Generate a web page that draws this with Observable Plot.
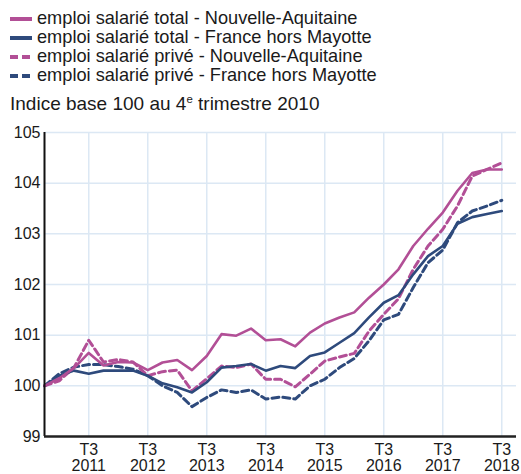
<!DOCTYPE html>
<html><head><meta charset="utf-8">
<script src="https://cdn.jsdelivr.net/npm/d3@7"></script>
<script src="https://cdn.jsdelivr.net/npm/@observablehq/plot@0.6"></script>
<style>
body{margin:0;background:#fff;font-family:"Liberation Sans",Arial,sans-serif;color:#1a1a1a}
#wrap{width:521px;height:474px;overflow:hidden;position:relative}
.legend{padding:9px 0 0 10px}
.row{height:19px;display:flex;align-items:center;font-size:18.2px;line-height:19px;white-space:nowrap}
.row svg{margin-right:5px;flex:none}
.sub{font-size:19px;height:21px;line-height:21px;margin:8px 0 0 10px;white-space:nowrap}
.sub .sup{font-size:0.6em;vertical-align:0.6em;line-height:0}
#chart svg{display:block}
</style></head><body>
<div id="wrap">
  <div class="legend" id="legend"></div>
  <div class="sub">Indice base 100 au 4<span class="sup">e</span> trimestre 2010</div>
  <div id="chart"></div>
</div>
<script>
const quarters = ["2010T4",
  "2011T1","2011T2","2011T3","2011T4",
  "2012T1","2012T2","2012T3","2012T4",
  "2013T1","2013T2","2013T3","2013T4",
  "2014T1","2014T2","2014T3","2014T4",
  "2015T1","2015T2","2015T3","2015T4",
  "2016T1","2016T2","2016T3","2016T4",
  "2017T1","2017T2","2017T3","2017T4",
  "2018T1","2018T2","2018T3"];
const tickQuarters = ["2011T3","2012T3","2013T3","2014T3","2015T3","2016T3","2017T3","2018T3"];
const yTicks = [99,100,101,102,103,104,105];

const totalNA = [100,100.15,100.35,100.65,100.4,100.47,100.46,100.31,100.46,100.51,100.31,100.59,101.02,100.99,101.13,100.9,100.92,100.78,101.05,101.23,101.35,101.45,101.74,102.0,102.3,102.76,103.1,103.42,103.85,104.2,104.27,104.27];
const totalFR = [100,100.2,100.3,100.24,100.3,100.3,100.3,100.2,100.05,99.97,99.87,100.07,100.36,100.39,100.43,100.3,100.39,100.35,100.59,100.66,100.85,101.04,101.35,101.64,101.79,102.2,102.56,102.76,103.2,103.33,103.39,103.45];
const priveNA = [100,100.1,100.36,100.9,100.47,100.52,100.47,100.2,100.28,100.31,99.9,100.14,100.39,100.36,100.43,100.13,100.13,99.98,100.23,100.49,100.57,100.64,101.08,101.41,101.72,102.3,102.76,103.09,103.55,104.14,104.27,104.4];
const priveFR = [100,100.24,100.37,100.42,100.42,100.38,100.33,100.2,100.0,99.87,99.59,99.77,99.92,99.87,99.92,99.74,99.78,99.74,100.0,100.13,100.36,100.54,100.89,101.3,101.41,101.94,102.43,102.68,103.22,103.45,103.55,103.66];

const PINK = "#b24f96", BLUE = "#2e4a7c";
const seriesNames = [
  "emploi salarié total - Nouvelle-Aquitaine",
  "emploi salarié total - France hors Mayotte",
  "emploi salarié privé - Nouvelle-Aquitaine",
  "emploi salarié privé - France hors Mayotte"
];
const seriesValues = [totalNA, totalFR, priveNA, priveFR];
const seriesColors = [PINK, BLUE, PINK, BLUE];
const seriesDashed = [false, false, true, true];

// legend
const leg = document.getElementById("legend");
seriesNames.forEach((name, k) => {
  const row = document.createElement("div");
  row.className = "row";
  const dash = seriesDashed[k] ? ' stroke-dasharray="8,4"' : '';
  row.innerHTML = `<svg width="22" height="8"><line x1="0" x2="22" y1="4" y2="4" stroke="${seriesColors[k]}" stroke-width="4"${dash}/></svg><span>${name}</span>`;
  leg.appendChild(row);
});

const idx = q => quarters.indexOf(q);
const tables = seriesValues.map(vals => vals.map((v, i) => ({i, v})));

const lineMark = k => Plot.line(tables[k], {
  x: "i", y: "v", stroke: seriesColors[k],
  strokeWidth: seriesDashed[k] ? 3 : 2.6,
  strokeDasharray: seriesDashed[k] ? "7,4" : null,
  strokeLinejoin: "round"
});

const chart = Plot.plot({
  width: 521, height: 360,
  marginTop: 18, marginBottom: 38, marginLeft: 44, marginRight: 5,
  style: {fontFamily: "Liberation Sans, Arial, sans-serif", color: "#1a1a1a", background: "#fff"},
  x: {domain: [0, quarters.length], axis: null},
  y: {domain: [99, 105], axis: null},
  marks: [
    Plot.gridY(yTicks.slice(1), {stroke: "#dce8f4", strokeOpacity: 1, strokeWidth: 1.5}),
    Plot.gridX(tickQuarters.map(idx), {stroke: "#dce8f4", strokeOpacity: 1, strokeWidth: 1.5}),
    lineMark(3), lineMark(2), lineMark(1), lineMark(0),
    Plot.ruleX([0], {stroke: "#111", strokeWidth: 2}),
    Plot.ruleY([99], {stroke: "#222", strokeWidth: 2.5}),
    Plot.axisY(yTicks, {tickSize: 0, tickPadding: 4, fontSize: 16, label: null, tickFormat: d => String(d)}),
    Plot.axisX(tickQuarters.map(idx), {
      tickSize: 0, tickPadding: 7, fontSize: 16, lineHeight: 1.0, label: null,
      tickFormat: i => { const q = quarters[i]; return q.slice(4) + "\n" + q.slice(0, 4); }
    })
  ]
});
document.getElementById("chart").appendChild(chart);
</script>
</body></html>
